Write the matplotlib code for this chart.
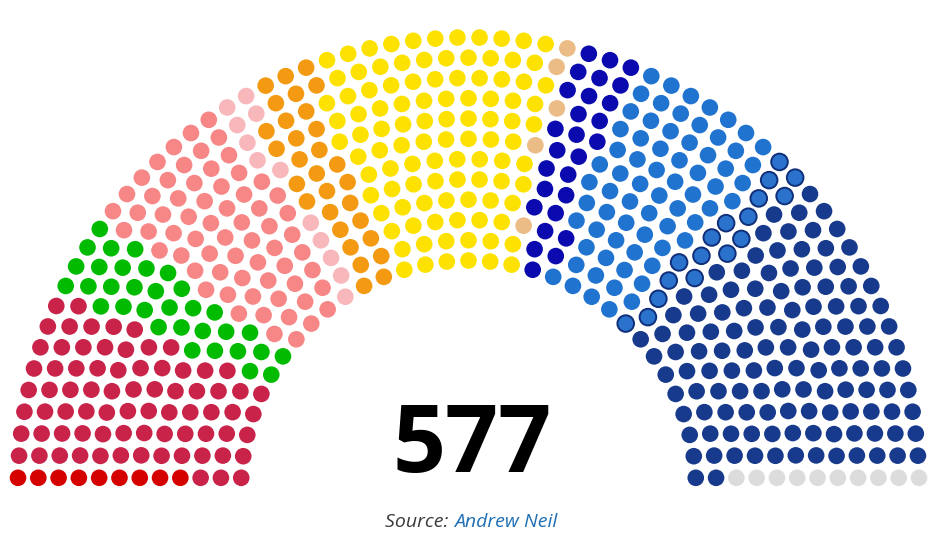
import numpy as np
import matplotlib
matplotlib.use("Agg")
import matplotlib.pyplot as plt
from matplotlib.patches import Circle
from matplotlib.collections import PatchCollection

# ---- data ----
parties = ["PCF", "LFI", "Ecologists", "PS", "Misc left", "MoDem", "Renaissance",
           "Misc centre", "Horizons", "LR", "UXD", "RN", "Vacant"]
seats = [9, 75, 33, 65, 12, 30, 101, 5, 27, 68, 17, 125, 10]
fill_colors = ["#d50000", "#c9234a", "#00bb00", "#f78686", "#f8b7bb", "#f39a12",
               "#fde200", "#ebbc86", "#0a0aae", "#2073cf", "#2a72cc", "#173a8c", "#dcdcdc"]
edge_colors = ["#d50000", "#c9234a", "#00bb00", "#f78686", "#f8b7bb", "#f39a12",
               "#fde200", "#ebbc86", "#0a0aae", "#2073cf", "#102f7a", "#173a8c", "#dcdcdc"]
total_label = str(sum(seats))
source_prefix = "Source: "
source_name = "Andrew Neil"

# ---- layout (parliament-arch style row filling) ----
W, H = 936, 534
cx, cy = 468.5, 488.0
r_in, r_out = 227.5, 450.6
n_rows = 12
dot_r = 8.3
row_half = 10.2

total = sum(seats)
# maximal seats per row, inner to outer
max_rows = [int(np.pi * (n_rows - 0.5 + r)) for r in range(n_rows)]
ratio = total / sum(max_rows)
counts = [int(round(ratio * m)) for m in max_rows[:-1]]
counts.append(total - sum(counts))
radii = np.linspace(r_in, r_out, n_rows)

pos = []
for R, n in zip(radii, counts):
    t0 = np.arcsin(row_half / R)
    th = np.linspace(t0, np.pi - t0, n)
    for t in th:
        pos.append((t, R))
pos.sort(key=lambda p: (-p[0], -p[1]))

party_idx = np.repeat(np.arange(len(seats)), seats)

fig = plt.figure(figsize=(W / 100, H / 100), dpi=100)
ax = fig.add_axes([0, 0, 1, 1])
ax.set_xlim(0, W)
ax.set_ylim(H, 0)
ax.axis("off")

patches, fcs, ecs, lws = [], [], [], []
for (t, R), p in zip(pos, party_idx):
    x = cx + R * np.cos(t)
    y = cy - R * np.sin(t)
    patches.append(Circle((x, y), dot_r))
    fcs.append(fill_colors[p])
    ecs.append(edge_colors[p])
    lws.append(1.4 if edge_colors[p] != fill_colors[p] else 0.0)
pc = PatchCollection(patches, facecolors=fcs, edgecolors=ecs, linewidths=lws)
ax.add_collection(pc)

ax.text(472.5, 472, total_label, ha="center", va="baseline", fontsize=67,
        fontweight="bold", family="Open Sans", color="#000000")

t1 = ax.text(0, 527, source_prefix, ha="left", va="baseline", fontsize=14,
             style="italic", family="Open Sans", color="#3a3a3a")
t2 = ax.text(0, 527, source_name, ha="left", va="baseline", fontsize=14,
             style="italic", family="Open Sans", color="#1f6fb5")
fig.canvas.draw()
r = fig.canvas.get_renderer()
w1 = t1.get_window_extent(r).width
w2 = t2.get_window_extent(r).width
x0 = 471 - (w1 + w2) / 2
t1.set_x(x0)
t2.set_x(x0 + w1)

fig.savefig("out.png", dpi=100, facecolor="white")
